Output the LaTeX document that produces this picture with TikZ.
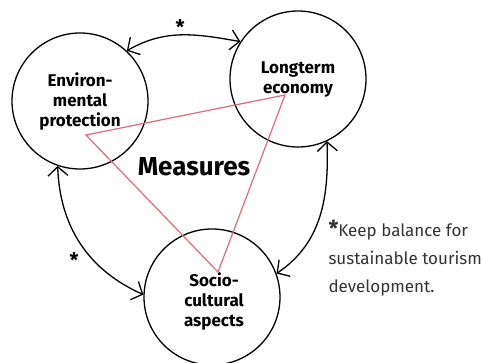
\documentclass[tikz,border=0pt]{standalone}
\usepackage{fontspec}
\setmainfont{Fira Sans}
\usetikzlibrary{positioning,arrows.meta}
\definecolor{tri red}{RGB}{224,106,118}
\tikzset{
	x=1pt, y=1pt,% one unit is one point
	aspect/.style = {circle, draw, line width=1.3pt, minimum size=136pt, inner sep=0pt, align=center, font=\bfseries\fontsize{17}{20}\selectfont}, % the three circles
	both way/.style = {{Straight Barb[length=9pt,width=20pt]}-{Straight Barb[length=9pt,width=20pt]}, line width=1.3pt},
	star/.style = {font=\bfseries\fontsize{20}{20}\selectfont, inner sep=0pt}
}

\begin{document}
\begin{tikzpicture}
            \tikzset{my line/.style = {draw=tri red, line width=1.2pt, line join=miter}}
            \useasboundingbox (0,0) rectangle (481,-362);
            \node[aspect] (1) at (80,-101) {Environ-\\mental\\protection};
            \node[aspect] (2) at (298,-79) {Longterm\\economy};
            \node[aspect] (3) at (212,-297) {};
            \node[align=center, inner sep=0pt, font=\bfseries\fontsize{17}{20}\selectfont] (3t) at (214,-301) {Socio-\\cultural\\aspects};
            \node[font=\bfseries\fontsize{26}{30}\selectfont] (4) at (194,-167) {Measures};
            % corners of the triangle
            \coordinate (a) at (86,-135);
            \coordinate (b) at (285,-95);
            \coordinate (c) at (218,-272);
            \draw[my line] (a) -- (b) -- (c) -- cycle;
            % two way arrows
            \draw[both way] (1.47) to[out=30, in=170] (2.147);
            \draw[both way] (1.251) to[out=272, in=156] (3.178);
            \draw[both way] (2.295) to[out=272, in=34] (3.20);
            \node[star] (5) at (180,-27) {*};
            \node[star] (6) at (74,-260) {*};
            \node[align=left, anchor=west, text=black!80, font=\fontsize{17}{28}\selectfont] (7) at (325,-258) {{\bfseries\fontsize{22}{22}\selectfont *}Keep balance for\\sustainable tourism\\development.};
        \end{tikzpicture}
\end{document}
